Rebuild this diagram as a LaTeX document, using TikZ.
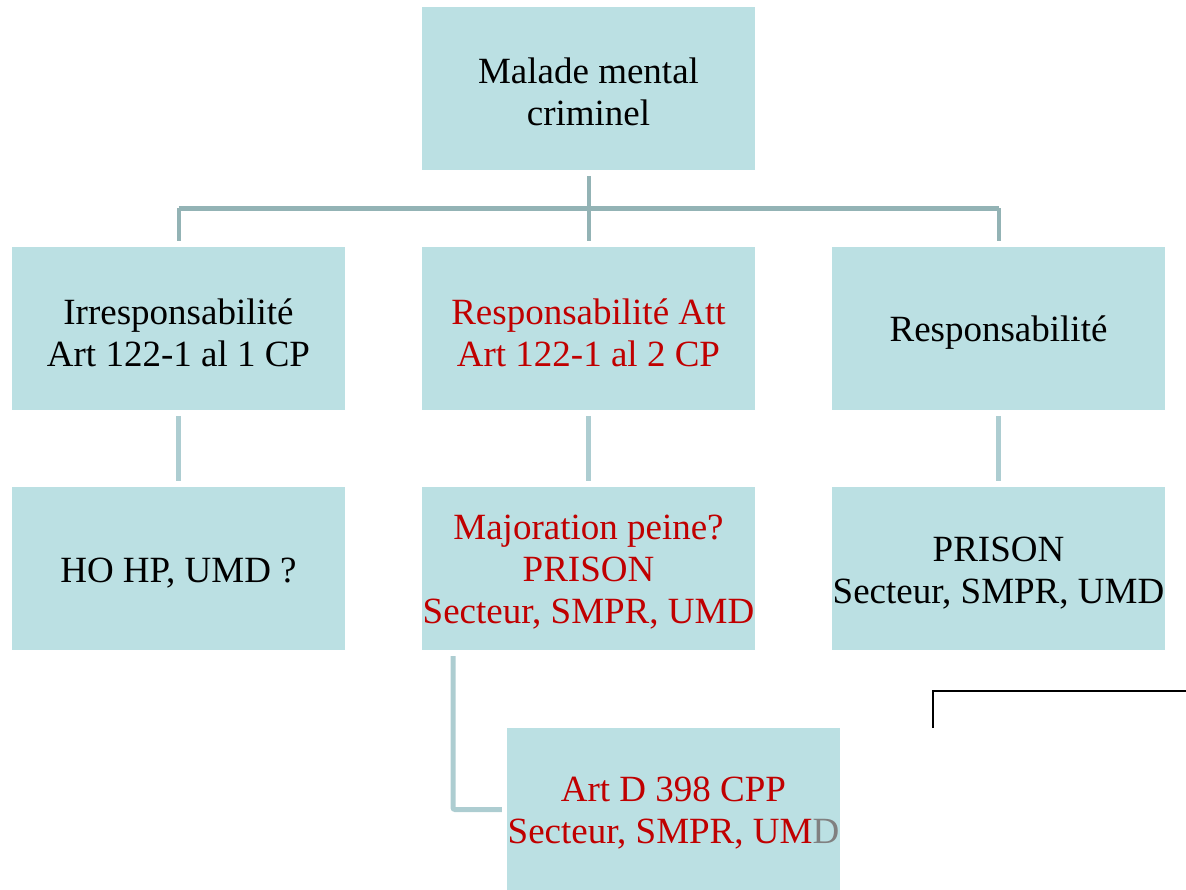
\documentclass[tikz,border=0pt]{standalone}
\usepackage{fontspec}
\setmainfont{Liberation Serif}
\definecolor{boxfill}{HTML}{BBE0E3}
\definecolor{barcol}{HTML}{93B3B5}
\definecolor{linkcol}{HTML}{ADCDD1}
\definecolor{redtxt}{HTML}{C00000}
\definecolor{graytxt}{HTML}{808080}
\begin{document}
\begin{tikzpicture}[x=1pt,y=-1pt,
  box/.style={fill=boxfill,draw=none,minimum width=333pt,minimum height=163pt,inner sep=0pt},
  txt/.style={inner sep=0pt,align=center,font=\fontsize{37}{42}\selectfont},
  redtxtstyle/.style={txt,text=redtxt},
  barline/.style={draw=barcol,line width=4pt},
  hbar/.style={draw=barcol,line width=5pt},
  link/.style={draw=linkcol,line width=5pt},
  blackline/.style={draw=black,line width=2pt}]
\useasboundingbox (0,0) rectangle (1186,889);
\begin{scope}
\clip (0,0) rectangle (1186,889);
\node[box] (top) at (588.5,88.5) {};
\node[box] (l2) at (178.5,328.5) {};
\node[box] (m2) at (588.5,328.5) {};
\node[box] (r2) at (998.5,328.5) {};
\node[box] (l3) at (178.5,568.5) {};
\node[box] (m3) at (588.5,568.5) {};
\node[box] (r3) at (998.5,568.5) {};
\node[box] (bot) at (673.5,809.5) {};

\node[txt] (topt) at ([yshift=-3pt]top.center) {Malade mental\\criminel};
\node[txt] (l2t) at ([yshift=-4pt]l2.center) {Irresponsabilité\\Art 122-1 al 1 CP};
\node[redtxtstyle] (m2t) at ([yshift=-4pt]m2.center) {Responsabilité Att\\Art 122-1 al 2 CP};
\node[txt] (r2t) at ([yshift=-4pt]r2.center) {Responsabilité};
\node[txt] (l3t) at ([yshift=-5pt]l3.center) {HO HP, UMD ?};
\node[redtxtstyle] (m3t) at ([yshift=-4pt]m3.center) {Majoration peine?\\PRISON\\Secteur, SMPR, UMD};
\node[txt] (r3t) at ([yshift=-5pt]r3.center) {PRISON\\Secteur, SMPR, UMD};
\node[redtxtstyle] (bott) at ([yshift=-4pt]bot.center) {Art D 398 CPP\\Secteur, SMPR, UM{\color{graytxt}D}};

\coordinate (bar) at (588.5,208);
\draw[barline] ([yshift=-6pt]top.south) -- ([yshift=6pt]m2.north);
\draw[barline] ([yshift=6pt]l2.north) -- (l2.north |- bar);
\draw[barline] ([yshift=6pt]r2.north) -- (r2.north |- bar);
\draw[hbar] (l2.north |- bar) -- (r2.north |- bar);

\draw[link] ([yshift=6pt]l3.north) -- ([yshift=-6pt]l2.south);
\draw[link] ([yshift=6pt]m3.north) -- ([yshift=-6pt]m2.south);
\draw[link] ([yshift=6pt]r3.north) -- ([yshift=-6pt]r2.south);

\coordinate (bl) at (453,656);
\draw[link,rounded corners=2pt] (bl) |- ([xshift=-5pt]bot.west);

\coordinate (k1) at (933,728);
\coordinate (k2) at (1186,691);
\draw[blackline] (k1) |- (k2);
\end{scope}
\end{tikzpicture}
\end{document}
